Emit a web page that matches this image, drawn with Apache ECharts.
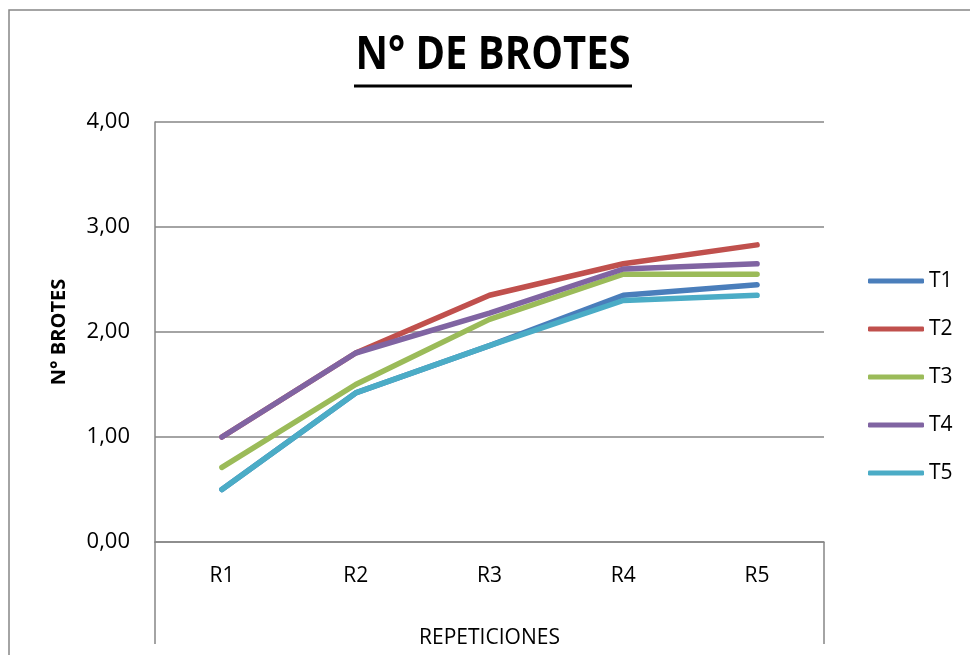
<!DOCTYPE html>
<html>
<head>
<meta charset="utf-8">
<script src="https://cdn.jsdelivr.net/npm/echarts@6/dist/echarts.min.js"></script>
<style>html,body{margin:0;padding:0;background:#fff}#chart{width:970px;height:655px}</style>
</head>
<body>
<div id="chart"></div>
<script>
var categories = ['R1', 'R2', 'R3', 'R4', 'R5'];
var seriesNames = ['T1', 'T2', 'T3', 'T4', 'T5'];
var T1 = [0.50, 1.42, 1.87, 2.35, 2.45];
var T2 = [1.00, 1.80, 2.35, 2.65, 2.83];
var T3 = [0.71, 1.50, 2.12, 2.55, 2.55];
var T4 = [1.00, 1.80, 2.18, 2.60, 2.65];
var T5 = [0.50, 1.42, 1.87, 2.30, 2.35];
var colors = ['#4A7EBB', '#C0504D', '#9BBB59', '#8064A2', '#4BACC6'];
var titleText = 'N° DE BROTES';
var yName = 'N° BROTES';
var xName = 'REPETICIONES';

var values = [T1, T2, T3, T4, T5];
var FONT = '"Open Sans", "DejaVu Sans", sans-serif';
var GRID = {left: 155, right: 146, top: 122, bottom: 113};
var GRAY = '#868686';

var chart = echarts.init(document.getElementById('chart'));
chart.setOption({
  animation: false,
  backgroundColor: '#fff',
  color: colors,
  grid: GRID,
  legend: {
    orient: 'vertical',
    left: 863,
    top: 264,
    icon: 'roundRect',
    itemWidth: 56,
    itemHeight: 5,
    itemGap: 24,
    textStyle: {fontFamily: FONT, fontSize: 21, color: '#000', lineHeight: 24},
    data: seriesNames
  },
  xAxis: {
    type: 'category',
    data: categories,
    boundaryGap: true,
    name: xName,
    nameLocation: 'middle',
    nameGap: 86,
    nameTextStyle: {fontFamily: FONT, fontSize: 21, color: '#000'},
    axisLine: {show: true, lineStyle: {color: GRAY, width: 1.5}},
    axisTick: {show: false},
    axisLabel: {fontFamily: FONT, fontSize: 21, color: '#000', margin: 24}
  },
  yAxis: {
    type: 'value',
    min: 0,
    max: 4,
    interval: 1,
    name: yName,
    nameLocation: 'middle',
    nameGap: 86,
    nameTextStyle: {fontFamily: FONT, fontSize: 20, fontWeight: 'bold', color: '#000'},
    axisLine: {show: true, lineStyle: {color: GRAY, width: 1.5}},
    axisTick: {show: false},
    splitLine: {show: true, lineStyle: {color: GRAY, width: 1.5}},
    axisLabel: {
      fontFamily: FONT, fontSize: 22, color: '#000', margin: 25,
      formatter: function (v) { return v.toFixed(2).replace('.', ','); }
    }
  },
  series: values.map(function (d, i) {
    return {
      name: seriesNames[i],
      type: 'line',
      data: d,
      symbol: 'none',
      lineStyle: {width: 5.5, color: colors[i], cap: 'round', join: 'round'},
      itemStyle: {color: colors[i]}
    };
  }),
  graphic: [
    {type: 'rect', shape: {x: 9, y: 10, width: 1000, height: 700}, style: {fill: 'none', stroke: GRAY, lineWidth: 1.5}, silent: true, z: -1},
    {type: 'line', shape: {x1: GRID.left, y1: 655 - GRID.bottom, x2: GRID.left, y2: 644}, style: {stroke: GRAY, lineWidth: 1.5}, silent: true},
    {type: 'line', shape: {x1: 970 - GRID.right, y1: 655 - GRID.bottom, x2: 970 - GRID.right, y2: 644}, style: {stroke: GRAY, lineWidth: 1.5}, silent: true},
    {type: 'text', x: 493, y: 79, scaleY: 1.15, style: {text: titleText, fill: '#000', font: 'bold 40px ' + FONT, textAlign: 'center', textVerticalAlign: 'bottom'}, silent: true},
    {type: 'line', shape: {x1: 354, y1: 86, x2: 632, y2: 86}, style: {stroke: '#000', lineWidth: 3}, silent: true}
  ]
});
</script>
</body>
</html>
